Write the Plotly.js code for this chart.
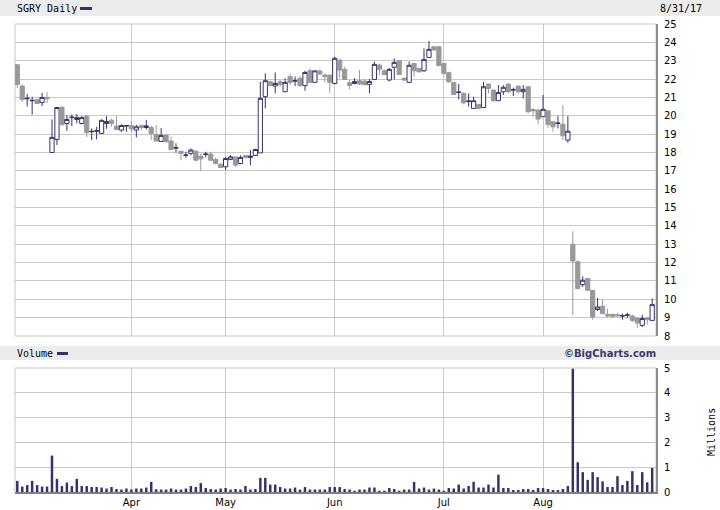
<!DOCTYPE html>
<html><head><meta charset="utf-8">
<script src="https://cdn.plot.ly/plotly-3.0.1.min.js"></script>
<style>html,body{margin:0;padding:0;background:#fff}#chart{width:720px;height:510px}</style>
</head><body><div id="chart"></div>
<script>
// trading days, Mar 1 - Aug 31 2017
const marDays=[1,2,3,6,7,8,9,10,13,14,15,16,17,20,21,22,23,24,27,28,29,30,31];
const aprDays=[3,4,5,6,7,10,11,12,13,17,18,19,20,21,24,25,26,27,28];
const mayDays=[1,2,3,4,5,8,9,10,11,12,15,16,17,18,19,22,23,24,25,26,30,31];
const junDays=[1,2,5,6,7,8,9,12,13,14,15,16,19,20,21,22,23,26,27,28,29,30];
const julDays=[3,5,6,7,10,11,12,13,14,17,18,19,20,21,24,25,26,27,28,31];
const augDays=[1,2,3,4,7,8,9,10,11,14,15,16,17,18,21,22,23,24,25,28,29,30,31];

const open=[22.78,21.62,20.93,20.82,20.87,20.73,21.0,18.0,18.71,20.47,
19.58,19.9,19.8,19.58,19.98,19.13,19.16,19.04,19.58,19.76,
19.44,19.22,19.44,19.47,19.22,19.47,19.36,19.36,18.98,18.6,
18.95,18.62,18.24,18.07,17.84,17.95,18.07,17.8,17.89,17.91,
17.62,17.36,17.22,17.62,17.76,17.4,17.84,17.73,17.84,17.98,
21.04,21.85,21.62,21.85,21.31,22.13,21.89,22.04,21.64,22.45,
21.82,22.44,22.22,22.22,21.76,23.04,22.53,21.8,21.76,21.91,
21.89,21.71,21.98,22.76,22.45,21.95,22.64,23.0,22.04,21.82,
22.85,22.58,22.45,23.18,23.76,23.76,22.85,22.35,21.8,21.27,
21.22,20.78,20.4,20.62,20.45,21.73,21.4,20.82,21.31,21.73,
21.4,21.62,21.31,21.58,20.35,20.31,19.95,20.27,19.67,19.58,
19.53,18.67,13.0,12.04,10.8,11.13,10.49,9.44,9.62,9.18,
9.18,9.16,9.09,9.13,9.09,8.95,8.58,8.98,8.85];
const high=[22.8,21.71,21.2,21.04,20.93,21.25,21.29,19.8,20.45,20.47,
20.02,20.07,20.09,19.98,20.04,19.31,19.4,19.8,19.98,19.85,
19.98,19.53,19.49,19.69,19.51,19.53,19.78,19.45,19.49,19.33,
18.98,18.87,18.5,18.07,18.04,18.22,18.13,17.95,18.04,18.04,
17.73,17.4,17.76,17.87,17.76,17.84,17.84,18.13,18.2,21.85,
22.31,21.91,22.36,21.95,22.04,22.27,22.13,22.18,22.45,22.58,
22.45,22.53,22.27,22.22,23.22,23.04,22.67,21.95,22.04,22.49,
22.0,22.0,22.95,22.85,22.53,22.6,23.13,23.0,22.09,22.95,
22.85,22.62,23.67,24.07,23.8,23.8,22.85,22.4,21.85,21.73,
21.27,21.22,21.04,20.62,21.85,21.73,21.45,21.67,21.67,21.73,
21.53,21.62,21.67,21.58,20.4,20.35,21.13,20.31,19.71,19.98,
20.58,19.98,13.71,12.13,11.25,11.13,10.49,10.07,10.0,9.49,
9.22,9.27,9.22,9.27,9.16,9.04,9.16,9.04,10.04];
const low=[21.5,20.76,20.5,20.07,20.64,20.53,20.7,18.0,18.4,19.51,
19.18,19.44,19.58,19.53,18.85,18.67,18.71,19.04,19.29,19.4,
19.22,19.13,19.13,19.13,18.82,19.22,19.25,18.67,18.62,18.6,
18.58,18.13,18.0,17.58,17.71,17.84,17.53,17.0,17.73,17.53,
17.36,17.15,17.04,17.58,17.22,17.36,17.67,17.31,17.8,17.98,
20.4,21.62,21.22,21.58,21.31,21.67,21.62,21.58,21.36,21.82,
21.82,22.22,21.82,21.25,21.71,22.04,21.95,21.44,21.71,21.67,
21.67,21.22,21.98,22.22,22.22,21.87,21.98,22.22,21.87,21.82,
22.15,22.35,22.4,23.18,23.58,22.73,22.22,21.8,21.13,20.89,
20.62,20.49,20.4,20.35,20.45,21.22,20.76,20.82,21.13,21.22,
21.07,21.22,20.95,20.13,19.95,19.53,19.95,19.35,19.13,19.31,
18.67,18.53,9.13,10.58,10.67,10.49,8.89,9.36,9.18,9.0,
9.0,9.05,8.89,9.0,8.76,8.45,8.49,8.62,8.85];
const close=[21.7,20.89,20.95,20.84,20.67,21.0,20.93,18.82,20.45,19.51,
19.8,19.92,19.9,19.9,19.09,19.15,19.18,19.75,19.69,19.58,
19.25,19.47,19.46,19.29,19.4,19.36,19.45,19.04,18.62,18.93,
18.58,18.16,18.26,17.95,17.86,18.13,17.58,17.65,17.91,17.58,
17.4,17.18,17.67,17.76,17.31,17.73,17.73,17.8,18.16,20.95,
21.91,21.64,21.76,21.71,21.82,21.82,21.91,21.64,22.36,21.82,
22.45,22.27,22.13,21.82,23.13,22.49,21.98,21.65,21.87,21.73,
21.69,21.87,22.8,22.53,22.25,22.53,22.91,22.25,21.95,22.75,
22.45,22.4,23.07,23.62,23.58,22.73,22.31,21.85,21.16,21.29,
20.71,20.8,20.82,20.4,21.58,21.49,20.82,21.27,21.55,21.31,
21.42,21.31,21.44,20.22,20.27,19.82,20.35,19.53,19.4,19.6,
18.91,19.16,12.09,10.58,11.04,10.49,9.04,9.58,9.22,9.09,
9.07,9.1,9.11,9.15,8.85,8.71,8.95,8.89,9.71];
// volume, millions
const volume=[0.45,0.22,0.28,0.45,0.28,0.22,0.22,1.47,0.53,0.24,
0.38,0.24,0.53,0.24,0.24,0.2,0.2,0.18,0.14,0.2,
0.12,0.1,0.14,0.1,0.14,0.14,0.18,0.41,0.11,0.1,
0.1,0.14,0.1,0.1,0.14,0.24,0.2,0.36,0.16,0.12,
0.1,0.14,0.16,0.1,0.12,0.1,0.24,0.1,0.12,0.57,
0.57,0.3,0.3,0.2,0.14,0.14,0.18,0.1,0.2,0.1,
0.1,0.1,0.1,0.2,0.2,0.2,0.12,0.1,0.05,0.1,
0.1,0.18,0.18,0.05,0.05,0.16,0.12,0.05,0.1,0.1,
0.41,0.14,0.18,0.1,0.14,0.1,0.05,0.16,0.14,0.3,
0.14,0.24,0.41,0.18,0.18,0.3,0.18,0.7,0.16,0.16,
0.08,0.08,0.12,0.12,0.08,0.16,0.16,0.12,0.08,0.08,
0.12,0.24,4.97,1.2,0.8,0.49,0.8,0.6,0.43,0.2,
0.2,0.64,0.28,0.45,0.84,0.28,0.8,0.39,0.97];
const monthTicks=['2017-04-03','2017-05-01','2017-06-01','2017-07-03','2017-08-01'];
const monthLabels=['Apr','May','Jun','Jul','Aug'];
const titleText='SGRY Daily';
const dateText='8/31/17';
const volumeText='Volume';
const creditText='©BigCharts.com';
const unitText='Millions';

function pad(d){return (d<10?'0':'')+d;}
const dates=[].concat(
  marDays.map(d=>'2017-03-'+pad(d)),
  aprDays.map(d=>'2017-04-'+pad(d)),
  mayDays.map(d=>'2017-05-'+pad(d)),
  junDays.map(d=>'2017-06-'+pad(d)),
  julDays.map(d=>'2017-07-'+pad(d)),
  augDays.map(d=>'2017-08-'+pad(d)));

const L=15,R=656,T=24,B=492;
const px=x=>(x-L)/(R-L);
const py=y=>(B-y)/(B-T);
const NAVY='#33336b', GRAY='#999999', GRID='#c8c8c8';
const monoFont={family:'DejaVu Sans Mono',size:10,color:'#000'};
const tickFont={family:'DejaVu Sans',size:10,color:'#000'};

const traces=[
 {type:'candlestick',x:dates,open:open,high:high,low:low,close:close,
  xaxis:'x',yaxis:'y',whiskerwidth:0,hoverinfo:'skip',
  increasing:{line:{color:NAVY,width:1},fillcolor:'#ffffff'},
  decreasing:{line:{color:GRAY,width:1},fillcolor:GRAY}},
 {type:'bar',x:dates,y:volume,xaxis:'x',yaxis:'y2',marker:{color:NAVY,line:{width:0}},hoverinfo:'skip'}
];

const layout={
 width:720,height:510,
 margin:{l:L,r:720-R,t:T,b:510-B,pad:0},
 paper_bgcolor:'#fff',plot_bgcolor:'#fff',
 showlegend:false,boxgap:0.15,boxgroupgap:0,bargap:0.5,
 xaxis:{type:'category',anchor:'y2',range:[-0.46,128.77],
   tickvals:monthTicks,ticktext:monthLabels,tickfont:tickFont,
   showgrid:true,gridcolor:GRID,gridwidth:1,ticks:'',
   showline:true,linecolor:'#808080',linewidth:2,
   rangeslider:{visible:false},fixedrange:true},
 yaxis:{domain:[py(336),1],range:[8,25],dtick:1,side:'right',
   showgrid:true,gridcolor:GRID,gridwidth:1,zeroline:false,
   showline:true,linecolor:'#8c8c8c',linewidth:2,
   ticks:'outside',ticklen:4,tickcolor:'rgba(0,0,0,0)',tickfont:tickFont},
 yaxis2:{domain:[0,py(368)],range:[0,5],dtick:1,side:'right',
   showgrid:true,gridcolor:GRID,gridwidth:1,zeroline:false,
   showline:true,linecolor:'#8c8c8c',linewidth:2,
   ticks:'outside',ticklen:4,tickcolor:'rgba(0,0,0,0)',tickfont:tickFont},
 shapes:[
  {type:'rect',xref:'paper',yref:'paper',x0:px(0),x1:px(720),y0:py(16),y1:py(0),fillcolor:'#ececec',line:{width:0},layer:'below'},
  {type:'rect',xref:'paper',yref:'paper',x0:px(0),x1:px(720),y0:py(360),y1:py(346),fillcolor:'#ececec',line:{width:0},layer:'below'},
  {type:'rect',xref:'paper',yref:'paper',x0:px(80),x1:px(92),y0:py(10),y1:py(7),fillcolor:NAVY,line:{width:0}},
  {type:'rect',xref:'paper',yref:'paper',x0:px(57),x1:px(68),y0:py(355),y1:py(352),fillcolor:NAVY,line:{width:0}},
  {type:'rect',xref:'paper',yref:'paper',x0:0,x1:1,y0:py(336),y1:1,line:{color:GRID,width:1},fillcolor:'rgba(0,0,0,0)',layer:'below'},
  {type:'rect',xref:'paper',yref:'paper',x0:0,x1:1,y0:0,y1:py(368),line:{color:GRID,width:1},fillcolor:'rgba(0,0,0,0)',layer:'below'}
 ],
 annotations:[
  {text:titleText,xref:'paper',yref:'paper',x:px(15),y:py(8.5),xanchor:'left',yanchor:'middle',showarrow:false,font:monoFont},
  {text:dateText,xref:'paper',yref:'paper',x:px(704),y:py(8.5),xanchor:'right',yanchor:'middle',showarrow:false,font:monoFont},
  {text:volumeText,xref:'paper',yref:'paper',x:px(15),y:py(353),xanchor:'left',yanchor:'middle',showarrow:false,font:monoFont},
  {text:'<b>'+creditText+'</b>',xref:'paper',yref:'paper',x:px(658),y:py(353),xanchor:'right',yanchor:'middle',showarrow:false,font:{family:'DejaVu Sans',size:10,color:'#3a3a6a'}},
  {text:unitText,xref:'paper',yref:'paper',x:px(711),y:py(432),xanchor:'center',yanchor:'middle',textangle:-90,showarrow:false,font:monoFont}
 ]
};
Plotly.newPlot('chart',traces,layout,{staticPlot:true,displayModeBar:false});
</script></body></html>
